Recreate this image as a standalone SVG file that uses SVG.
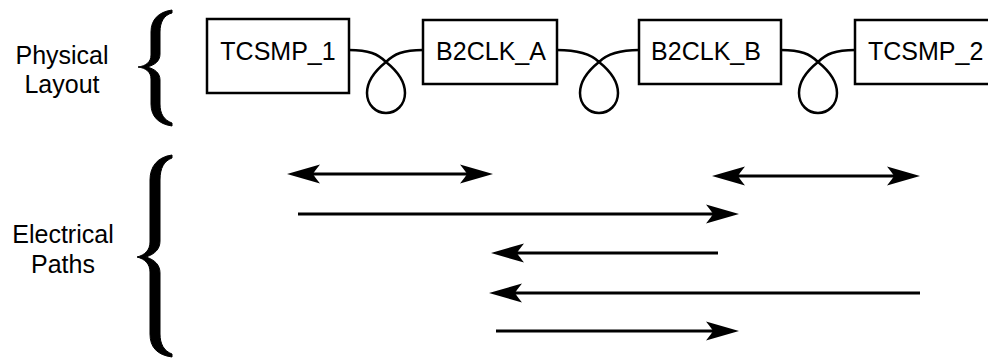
<svg xmlns="http://www.w3.org/2000/svg" width="988" height="358" viewBox="0 0 988 358">
<style>
.box{fill:#fff;stroke:#000;stroke-width:2.5}
.lbl{font-family:"Liberation Sans",Arial,Helvetica,sans-serif;font-size:25px;fill:#000}
.wire{fill:none;stroke:#000;stroke-width:2.5;stroke-linecap:round}
.arr{fill:none;stroke:#000;stroke-width:3}
.brace{fill:#000;stroke:#000;stroke-width:1}
</style>
<defs>
<marker id="head" markerUnits="userSpaceOnUse" viewBox="0 0 34 20" markerWidth="34" markerHeight="20" refX="14" refY="10" orient="auto-start-reverse">
<path d="M34,10 L1,0.5 Q7,8 8,10 Q7,12 1,19.5 Z" fill="#000"/>
</marker>
</defs>
<rect width="988" height="358" fill="#fff"/>
<g id="labels">
<text class="lbl" x="62" y="64" text-anchor="middle">Physical</text>
<text class="lbl" x="62" y="93" text-anchor="middle">Layout</text>
<text class="lbl" x="63" y="243" text-anchor="middle">Electrical</text>
<text class="lbl" x="63" y="273" text-anchor="middle">Paths</text>
</g>
<g id="brackets">
<path class="brace" d="M172,10 C158,12 151,20 151,32 L151,55 C151,62 146,66 138,67 C146,68 151,72 151,79 L151,104 C151,116 158,124 172,126 L172,123 C164,120 160,114 160,104 L160,80 C160,73 155,69 147,67 C155,65 160,61 160,54 L160,32 C160,22 164,15 172,13 Z"/>
<path class="brace" d="M172,155 C157,157 150,167 150,180 L150,242 C150,250 145,255 137,257 C145,259 150,264 150,272 L150,334 C150,347 157,355 172,357 L172,354 C164,351 160,344 160,334 L160,273 C160,265 155,260 146,257 C155,254 160,249 160,241 L160,180 C160,168 164,161 172,158 Z"/>
</g>
<g id="connectors">
<path class="wire" d="M349,50 C369,50 378,54 386,62 C396,70 405,80 405,93 C405,105 396,113 386,113 C376,113 367,105 367,93 C367,80 376,70 386,62 C394,54 403,50 423,50"/>
<path class="wire" d="M557,50 C577,50 591,54 599,62 C609,70 618,80 618,93 C618,105 609,113 599,113 C589,113 580,105 580,93 C580,80 589,70 599,62 C607,54 619,50 639,50"/>
<path class="wire" d="M781,50 C801,50 810,54 818,62 C828,70 837,80 837,93 C837,105 828,113 818,113 C808,113 799,105 799,93 C799,80 808,70 818,62 C826,54 835,50 855,50"/>
<line class="arr" x1="307" y1="174" x2="473" y2="174" marker-start="url(#head)" marker-end="url(#head)"/>
<line class="arr" x1="732" y1="176" x2="900" y2="176" marker-start="url(#head)" marker-end="url(#head)"/>
<line class="arr" x1="298" y1="214" x2="719" y2="214" marker-end="url(#head)"/>
<line class="arr" x1="718" y1="253" x2="511" y2="253" marker-end="url(#head)"/>
<line class="arr" x1="920" y1="293" x2="509" y2="293" marker-end="url(#head)"/>
<line class="arr" x1="496" y1="331" x2="719" y2="331" marker-end="url(#head)"/>
</g>
<g id="TCSMP_1">
<rect class="box" x="207" y="19" width="142" height="74"/>
<text class="lbl" x="278" y="60" text-anchor="middle">TCSMP_1</text>
</g>
<g id="B2CLK_A">
<rect class="box" x="423" y="20" width="134" height="64"/>
<text class="lbl" x="491" y="60" text-anchor="middle">B2CLK_A</text>
</g>
<g id="B2CLK_B">
<rect class="box" x="639" y="20" width="142" height="64"/>
<text class="lbl" x="706" y="60" text-anchor="middle">B2CLK_B</text>
</g>
<g id="TCSMP_2">
<rect class="box" x="855" y="20" width="160" height="64"/>
<text class="lbl" x="868" y="60">TCSMP_2</text>
</g>
</svg>
